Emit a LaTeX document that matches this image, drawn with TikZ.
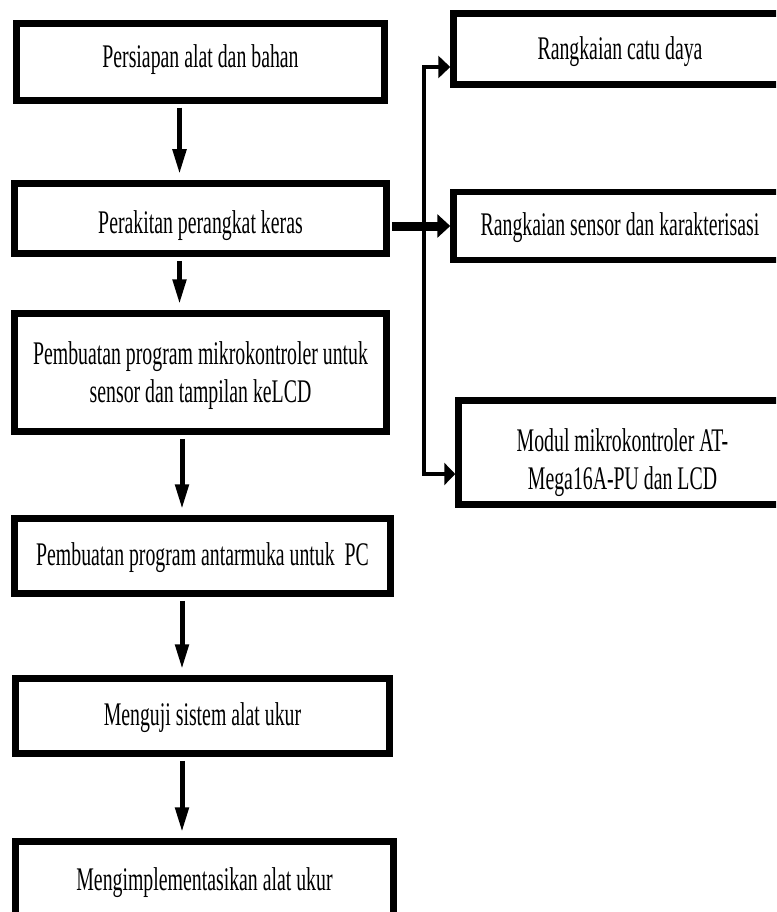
\documentclass[tikz,border=0pt]{standalone}
\usepackage{fontspec}
\newfontfamily\condserif[FakeStretch=0.6]{Liberation Serif}
\usetikzlibrary{arrows.meta,calc}
\begin{document}
\begin{tikzpicture}[x=1pt,y=-1pt,
  stepbox/.style={draw, line width=6.5pt, align=center, inner sep=0pt,
    font=\condserif\fontsize{33}{38}\selectfont},
  baselineat/.style={text height=#1, text depth=0pt},
  flow/.style={line width=5pt, -{Triangle[length=25pt,width=13pt]},
    shorten <=4pt, shorten >=6pt},
  thickflow/.style={line width=9pt, -{Triangle[length=13pt,width=23pt]}, shorten <=2pt},
  branch/.style={line width=4.5pt, line join=miter,
    {Triangle[length=12pt,width=22pt]}-{Triangle[length=11pt,width=22pt]}}]
\useasboundingbox (0,0) rectangle (776,912);
\clip (0,0) rectangle (776,912);
\fill[white] (0,0) rectangle (776,912);

\node[stepbox, minimum width=368pt, minimum height=77pt, baselineat=12pt] (b1) at (200.5,62) {Persiapan alat dan bahan};
\node[stepbox, minimum width=372pt, minimum height=70pt, baselineat=29pt] (b2) at (200.5,218.5) {Perakitan perangkat keras};
\node[stepbox, minimum width=372pt, minimum height=118pt, baselineat=59pt] (b3) at (200.5,372.5) {Pembuatan program mikrokontroler untuk\\sensor dan tampilan keLCD};
\node[stepbox, minimum width=376pt, minimum height=75pt, baselineat=18pt] (b4) at (202.5,556) {Pembuatan program antarmuka untuk\ \ PC};
\node[stepbox, minimum width=374pt, minimum height=75pt, baselineat=18pt] (b5) at (202.5,716) {Menguji sistem alat ukur};
\node[stepbox, minimum width=378pt, minimum height=79pt, baselineat=18pt] (b6) at (204.5,881) {Mengimplementasikan alat ukur};

\node[stepbox, minimum width=333pt, minimum height=71pt, baselineat=22pt] (r1) at (620,49) {Rangkaian catu daya};
\node[stepbox, minimum width=333pt, minimum height=68pt, baselineat=18pt] (r2) at (620,226) {Rangkaian sensor dan karakterisasi};
\node[stepbox, minimum width=328pt, minimum height=104pt, baselineat=73pt] (r3) at (622.5,452.5) {Modul mikrokontroler AT-\\Mega16A-PU dan LCD};

\draw[flow] ([xshift=-21pt]b1.south) -- ([xshift=-21pt]b2.north);
\draw[flow] ([xshift=-21pt]b2.south) -- ([xshift=-21pt]b3.north);
\draw[flow] ([xshift=-18.5pt]b3.south) -- ([xshift=-20.5pt]b4.north);
\draw[flow] ([xshift=-20.5pt]b4.south) -- ([xshift=-20.5pt]b5.north);
\draw[flow] ([xshift=-20.5pt]b5.south) -- ([xshift=-22.5pt]b6.north);

\draw[thickflow] (b2.east |- r2.west) -- (r2.west);

\coordinate (jt) at (424,67);
\coordinate (jb) at (424,474);
\draw[branch] (jt -| r1.west) -- (jt) -- (jb) -- (jb -| r3.west);
\end{tikzpicture}
\end{document}
